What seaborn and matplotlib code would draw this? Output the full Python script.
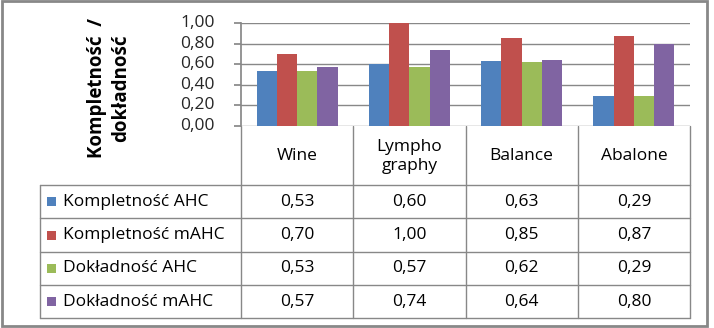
import matplotlib
matplotlib.use("Agg")
import matplotlib.pyplot as plt
import seaborn as sns
import pandas as pd
from matplotlib.patches import Rectangle

categories = ["Wine", "Lympho\ngraphy", "Balance", "Abalone"]
series = ["Kompletność AHC", "Kompletność mAHC", "Dokładność AHC", "Dokładność mAHC"]
kompletnosc_ahc = [0.53, 0.60, 0.63, 0.29]
kompletnosc_mahc = [0.70, 1.00, 0.85, 0.87]
dokladnosc_ahc = [0.53, 0.57, 0.62, 0.29]
dokladnosc_mahc = [0.57, 0.74, 0.64, 0.80]
yticks = [0.0, 0.2, 0.4, 0.6, 0.8, 1.0]
colors = ["#4F81BD", "#C0504D", "#9BBB59", "#8064A2"]

values = [kompletnosc_ahc, kompletnosc_mahc, dokladnosc_ahc, dokladnosc_mahc]
rows = []
for s, vals in zip(series, values):
    for c, v in zip(categories, vals):
        rows.append({"cat": c, "series": s, "val": v})
df = pd.DataFrame(rows)

sns.set_theme(style="white")
plt.rcParams["font.family"] = ["Open Sans", "DejaVu Sans"]
FS = 12.5

W, H = 714, 328
fig = plt.figure(figsize=(W / 100, H / 100), dpi=100)
fig.patch.set_facecolor("white")

# layout (pixels)
px0, px1 = 241, 690
py_top, py_zero = 23, 126
tab_left = 40
row_edges = [126, 185, 218, 252, 285, 318]
grid_c = "#888888"

ax = fig.add_axes([px0 / W, (H - py_zero) / H, (px1 - px0) / W, (py_zero - py_top) / H])
sns.barplot(data=df, x="cat", y="val", hue="series", palette=colors, ax=ax,
            width=0.72, dodge=True, saturation=1, legend=False, linewidth=0)
ax.set_ylim(0, 1.0)
ax.set_xlim(-0.5, len(categories) - 0.5)
ax.set_yticks(yticks)
ax.set_yticklabels([f"{t:.2f}".replace(".", ",") for t in yticks], fontsize=FS)
ax.set_xticks([])
ax.set_xlabel("")
ax.set_ylabel("")
ax.yaxis.grid(True, color=grid_c, linewidth=1)
ax.set_axisbelow(True)
for sp in ["top", "right", "bottom"]:
    ax.spines[sp].set_visible(False)
ax.spines["left"].set_color(grid_c)
ax.tick_params(axis="y", length=5, color=grid_c, left=True, pad=14)
for lab in ax.get_yticklabels():
    lab.set_verticalalignment("center")

# overlay for table
ov = fig.add_axes([0, 0, 1, 1], zorder=-1)
ov.set_xlim(0, W)
ov.set_ylim(H, 0)
ov.axis("off")

col_edges = [px0 + i * (px1 - px0) / len(categories) for i in range(len(categories) + 1)]
lw = 1
for x in col_edges:
    ov.plot([x, x], [row_edges[0], row_edges[-1]], color=grid_c, lw=lw)
ov.plot([tab_left, tab_left], [row_edges[1], row_edges[-1]], color=grid_c, lw=lw)
for i, y in enumerate(row_edges):
    if i == 0:
        continue
    ov.plot([tab_left, px1], [y, y], color=grid_c, lw=lw)

for j, c in enumerate(categories):
    xc = (col_edges[j] + col_edges[j + 1]) / 2
    ov.text(xc, (row_edges[0] + row_edges[1]) / 2 + 1, c, ha="center", va="center",
            fontsize=FS, linespacing=1.3, color="black")

for i, (s, vals) in enumerate(zip(series, values)):
    yc = (row_edges[i + 1] + row_edges[i + 2]) / 2
    ov.add_patch(Rectangle((47, yc - 4.5), 9, 9, facecolor=colors[i], edgecolor="none"))
    ov.text(63, yc, s, ha="left", va="center", fontsize=FS, color="black")
    for j, v in enumerate(vals):
        xc = (col_edges[j] + col_edges[j + 1]) / 2
        ov.text(xc, yc, f"{v:.2f}".replace(".", ","), ha="center", va="center",
                fontsize=FS, color="black")

ov.text(109, 88, "Kompletność  /\ndokładność", rotation=90, ha="center", va="center",
        fontsize=FS + 1, fontweight="bold", linespacing=1.25, color="black")

# outer border
ov.add_patch(Rectangle((2, 1), W - 9, H - 3, fill=False, edgecolor="#888888", lw=2))

fig.savefig("out.png", dpi=100)
